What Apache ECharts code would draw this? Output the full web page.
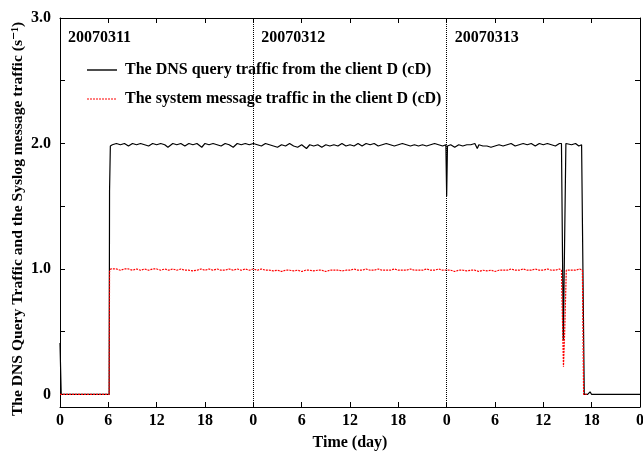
<!DOCTYPE html>
<html>
<head>
<meta charset="utf-8">
<script src="https://cdn.jsdelivr.net/npm/echarts@6.0.0/dist/echarts.min.js"></script>
<style>html,body{margin:0;padding:0;background:#fff;}#c{width:643px;height:452px;}</style>
</head>
<body>
<div id="c"></div>
<script>
// ---- data (hours since 2007-03-11 00:00, traffic in s^-1) ----
const dateLabels = ['20070311', '20070312', '20070313'];
const dayStarts = [0, 24, 48];
const dayBoundaries = [24, 48];
const yTickValues = [0, 0.5, 1.0, 1.5, 2.0, 2.5, 3.0];
const yLabelValues = [0, 1.0, 2.0, 3.0];
const yAxisTitle = 'The DNS Query Traffic and the Syslog message traffic (s\u207B\u00B9)';
const seriesNames = ['The DNS query traffic from the client D (cD)', 'The system message traffic in the client D (cD)'];

const dnsDay1 = [[0,0.41],[0.15,0.0],[1.0,0.0],[1.5,0.0],[1.6,0.012],[1.75,0.0],[3,0.0],[4.5,0.0],[6.1,0.0],[6.15,1.62],[6.25,1.98],[6.5,1.99],[7,2.00],[7.5,1.99],[8,2.00],[8.5,1.98],[9,2.00],[9.5,1.99],[10,2.00],[10.5,1.99],[11,1.98],[11.5,2.00],[12,1.99],[12.5,2.00],[13,1.99],[13.4,1.97],[14,2.00],[14.5,1.99],[15,2.00],[15.5,1.98],[16,2.00],[16.5,1.99],[17,2.00],[17.6,1.97],[18,2.00],[18.5,1.99],[19,2.00],[19.5,1.99],[20,1.98],[20.5,2.00],[21,1.99],[21.5,1.97],[22,2.00],[22.5,1.99],[23,2.00],[23.5,1.99]];
const dnsDay2 = [[24,2.00],[24.5,1.99],[25,1.98],[25.5,2.00],[26,1.99],[26.5,1.98],[27,1.97],[27.5,1.99],[28,1.98],[28.5,2.00],[29,1.98],[29.5,1.97],[30,1.99],[30.6,1.96],[31,1.99],[31.5,1.98],[32,1.99],[32.5,1.97],[33,1.99],[33.5,1.98],[34,1.99],[34.5,1.98],[35,2.00],[35.5,1.98],[36,1.99],[36.5,1.98],[37,2.00],[37.5,1.98],[38,2.00],[38.5,1.99],[39,2.00],[39.5,1.98],[40,1.99],[40.5,2.00],[41,1.99],[41.5,1.98],[42,1.99],[42.5,2.00],[43,1.99],[43.5,1.98],[44,1.99],[44.5,1.98],[45,1.99],[45.5,1.98],[46,1.99],[46.5,2.00],[47,1.99],[47.5,1.98],[47.9,1.99]];
const dnsDay3 = [[48,1.58],[48.1,1.98],[48.5,1.99],[49,1.97],[49.5,1.99],[50,1.98],[50.5,1.99],[51,1.99],[51.5,2.00],[51.8,1.96],[52,1.99],[52.5,1.98],[53,1.98],[53.5,1.97],[54,1.98],[54.5,1.99],[55,1.98],[55.5,1.99],[56,2.00],[56.5,1.98],[57,1.99],[57.5,2.00],[58,1.99],[58.5,2.00],[59,1.98],[59.5,2.00],[60,1.99],[60.5,2.00],[61,1.99],[61.5,1.98],[62,2.00],[62.25,2.00],[62.48,0.43],[62.8,2.00],[63,2.00],[63.5,1.99],[64,2.00],[64.4,1.98],[64.75,1.99],[65.08,0.0],[65.5,0.0],[65.8,0.02],[66,0.0],[69,0.0],[72,0.0]];

const sysDay1 = [[0,0],[1,0],[2,0],[3,0],[4,0],[5,0],[6.1,0],[6.15,0.98],[6.3,1.0],[6.5,0.99],[7,1.0],[7.5,0.99],[8,1.0],[8.5,1.0],[9,0.99],[9.5,1.0],[10,0.99],[10.5,1.0],[11,0.99],[11.5,1.0],[12,1.0],[12.5,0.99],[13,1.0],[13.5,0.99],[14,1.0],[14.5,0.99],[15,1.0],[15.5,0.99],[16,0.99],[16.5,0.985],[17,0.99],[17.5,1.0],[18,0.99],[18.5,1.0],[19,0.99],[19.5,1.0],[20,0.99],[20.5,0.99],[21,1.0],[21.5,0.99],[22,1.0],[22.5,0.99],[23,1.0],[23.5,0.99]];
const sysDay2 = [[24,1.0],[24.5,0.99],[25,1.0],[25.5,0.99],[26,0.99],[26.5,0.985],[27,0.99],[27.5,0.98],[28,0.99],[28.5,0.99],[29,0.985],[29.5,0.99],[30,0.98],[30.5,0.99],[31,0.99],[31.5,0.985],[32,0.99],[32.5,0.99],[33,0.98],[33.5,0.99],[34,0.99],[34.5,0.99],[35,0.985],[35.5,0.99],[36,0.99],[36.5,1.0],[37,0.99],[37.5,0.99],[38,1.0],[38.5,0.99],[39,0.99],[39.5,1.0],[40,0.99],[40.5,0.99],[41,0.99],[41.5,1.0],[42,0.99],[42.5,0.99],[43,0.99],[43.5,1.0],[44,0.99],[44.5,0.99],[45,0.99],[45.5,1.0],[46,0.99],[46.5,0.99],[47,1.0],[47.5,0.99]];
const sysDay3 = [[48,0.99],[48.5,0.99],[49,0.98],[49.5,0.99],[50,0.99],[50.5,0.985],[51,0.99],[51.5,0.99],[52,0.98],[52.5,0.99],[53,0.985],[53.5,0.99],[54,0.98],[54.5,0.99],[55,0.99],[55.5,0.99],[56,1.0],[56.5,0.99],[57,0.99],[57.5,1.0],[58,0.99],[58.5,0.99],[59,1.0],[59.5,0.99],[60,0.99],[60.5,1.0],[61,0.99],[61.5,0.99],[62,1.0],[62.25,0.99],[62.5,0.22],[62.65,0.5],[62.85,0.99],[63,1.0],[63.5,0.99],[64,0.99],[64.5,1.0],[64.85,0.99],[65.0,0.0],[65.4,0.0]];

const dnsData = dnsDay1.concat(dnsDay2, dnsDay3);
const sysData = sysDay1.concat(sysDay2, sysDay3);

const FONT = '"Liberation Serif", "DejaVu Serif", serif';
const txt = { fontFamily: FONT, fontWeight: 'bold', fontSize: 16, color: '#000' };
const COLORS = ['#000000', '#ff0000'];

const chart = echarts.init(document.getElementById('c'), null, { renderer: 'canvas' });
const axisLine = { show: true, onZero: false, lineStyle: { color: '#000', width: 1 } };
const option = {
  animation: false,
  backgroundColor: '#fff',
  grid: { left: 60, right: 3, top: 18, bottom: 45, containLabel: false, outerBoundsMode: 'none' },
  xAxis: [{
    type: 'value', min: 0, max: 72, interval: 6, position: 'bottom',
    axisLine: axisLine,
    axisTick: { inside: true, length: 5, lineStyle: { color: '#000' } },
    axisLabel: { ...txt, margin: 6, formatter: v => String(v % 24) },
    splitLine: { show: false },
    name: 'Time (day)', nameLocation: 'middle', nameGap: 28, nameTextStyle: txt
  }, {
    type: 'value', min: 0, max: 72, interval: 6, position: 'top',
    axisLine: axisLine,
    axisTick: { inside: true, length: 5, lineStyle: { color: '#000' } },
    axisLabel: { show: false }, splitLine: { show: false }
  }],
  yAxis: [{
    type: 'value', min: -0.1, max: 3.0, position: 'left',
    axisLine: axisLine,
    axisTick: { inside: true, length: 5, lineStyle: { color: '#000' }, customValues: yTickValues },
    axisLabel: { ...txt, margin: 9, customValues: yLabelValues, formatter: v => v === 0 ? '0' : v.toFixed(1) },
    splitLine: { show: false }
  }, {
    type: 'value', min: -0.1, max: 3.0, position: 'right',
    axisLine: axisLine,
    axisTick: { inside: true, length: 5, lineStyle: { color: '#000' }, customValues: yTickValues },
    axisLabel: { show: false }, splitLine: { show: false }
  }],
  series: [{
    name: seriesNames[0], type: 'line', data: dnsData, symbol: 'none', z: 2,
    lineStyle: { color: COLORS[0], width: 1.2, type: 'solid' }, itemStyle: { color: COLORS[0] },
    markLine: {
      silent: true, symbol: 'none', label: { show: false },
      lineStyle: { color: '#000', width: 1, type: 'dotted' },
      data: dayBoundaries.map(h => ({ xAxis: h }))
    }
  }, {
    name: seriesNames[1], type: 'line', data: sysData, symbol: 'none', z: 3,
    lineStyle: { color: COLORS[1], width: 1.2, type: [2, 1] }, itemStyle: { color: COLORS[1] }
  }]
};
chart.setOption(option);

// date labels just right of each day start, a key drawn as line samples + text, and the y-axis title
const dateGraphics = dayStarts.map((h, i) => {
  const px = chart.convertToPixel({ xAxisIndex: 0 }, h);
  return {
    type: 'text', x: px + 8, y: 38,
    style: { text: dateLabels[i], font: 'bold 16px ' + FONT, fill: '#000', verticalAlign: 'middle', align: 'left' }
  };
});
const keyRows = [70, 99];
const keyGraphics = [];
seriesNames.forEach((name, i) => {
  keyGraphics.push({
    type: 'line', shape: { x1: 87, y1: keyRows[i], x2: 117, y2: keyRows[i] },
    style: { stroke: COLORS[i], lineWidth: i === 0 ? 1.4 : 1.2, lineDash: i === 0 ? null : [2, 1] }
  });
  keyGraphics.push({
    type: 'text', x: 125, y: keyRows[i],
    style: { text: name, font: 'bold 16px ' + FONT, fill: '#000', verticalAlign: 'middle', align: 'left' }
  });
});
const yTitle = {
  type: 'text', x: 18, y: 219, rotation: Math.PI / 2,
  style: { text: yAxisTitle, font: 'bold 15.6px ' + FONT, fill: '#000', verticalAlign: 'middle', align: 'center' }
};
chart.setOption({ graphic: dateGraphics.concat(keyGraphics, [yTitle]) });
</script>
</body>
</html>
